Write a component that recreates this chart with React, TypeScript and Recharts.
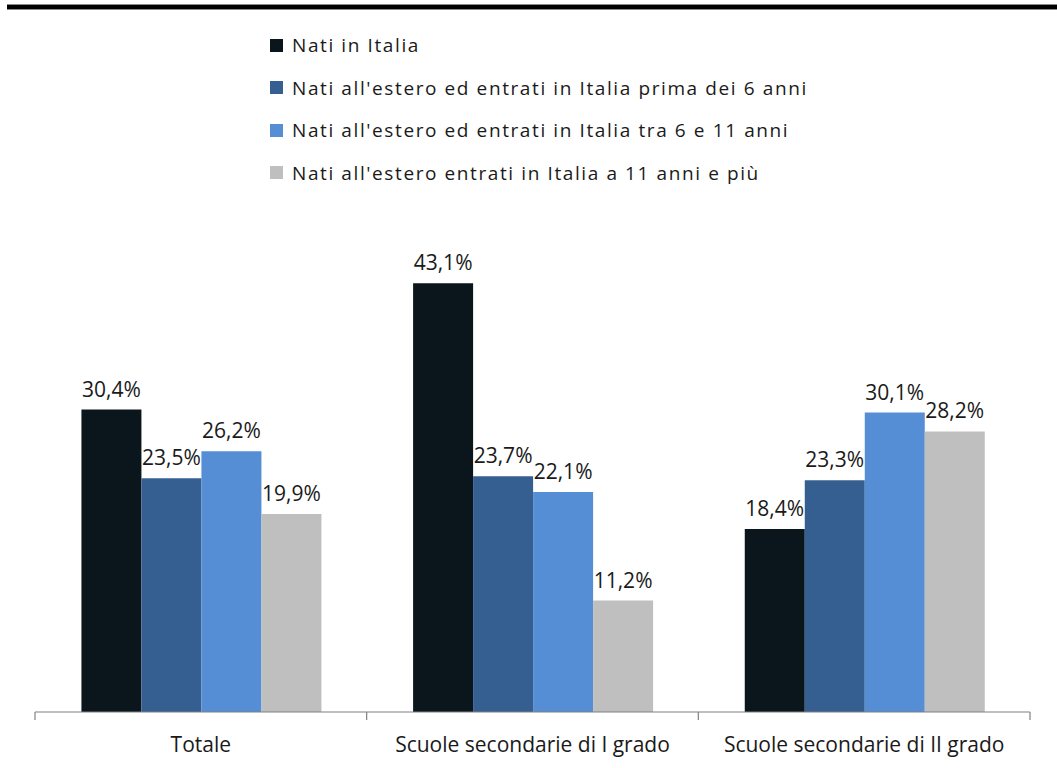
import { Bar, BarChart, LabelList, XAxis, YAxis } from "recharts";

const categories = ["Totale", "Scuole secondarie di I grado", "Scuole secondarie di II grado"];
const natiItalia = [30.4, 43.1, 18.4];
const primaSei = [23.5, 23.7, 23.3];
const traSeiUndici = [26.2, 22.1, 30.1];
const undiciPiu = [19.9, 11.2, 28.2];

const seriesNames = [
  "Nati in Italia",
  "Nati all'estero ed entrati in Italia prima dei 6 anni",
  "Nati all'estero ed entrati in Italia tra 6 e 11 anni",
  "Nati all'estero entrati in Italia a 11 anni e più",
];
const colors = ["#0b161c", "#365f91", "#558ed5", "#bfbfbf"];

const data = categories.map((c, i) => ({
  name: c,
  s0: natiItalia[i],
  s1: primaSei[i],
  s2: traSeiUndici[i],
  s3: undiciPiu[i],
}));

const W = 1057;
const H = 768;
const LEFT = 35;
const RIGHT = 27;
const BAND = (W - LEFT - RIGHT) / categories.length;
const fmt = (v: number) => v.toFixed(1).replace(".", ",") + "%";

function CatTick(props: any) {
  const { x, y, payload, index } = props;
  const lines = [x - BAND / 2];
  if (index === categories.length - 1) lines.push(x + BAND / 2);
  return (
    <g>
      {lines.map((lx, k) => (
        <line key={k} x1={lx} x2={lx} y1={y - 8} y2={y} stroke="#808080" strokeWidth={1.2} />
      ))}
      <text
        x={x}
        y={y + 32}
        textAnchor="middle"
        fontSize={21}
        fontFamily="'Open Sans', sans-serif"
        fill="#1a1a1a"
      >
        {payload.value}
      </text>
    </g>
  );
}

function LegendBox() {
  return (
    <div
      style={{
        position: "absolute",
        left: 270,
        top: 24,
        fontFamily: "'Open Sans', sans-serif",
        fontSize: 19,
        color: "#1a1a1a",
      }}
    >
      {seriesNames.map((n, i) => (
        <div key={n} style={{ display: "flex", alignItems: "center", height: 42.5 }}>
          <span style={{ width: 13, height: 13, background: colors[i], marginRight: 9, display: "inline-block" }} />
          <span style={{ letterSpacing: 1.6, whiteSpace: "nowrap" }}>{n}</span>
        </div>
      ))}
    </div>
  );
}

export default function App() {
  return (
    <div style={{ position: "absolute", left: 0, top: 0, width: W, height: H, background: "#fff" }}>
      <div
        style={{
          position: "absolute",
          left: 7,
          top: 4,
          width: W - 7,
          height: 4,
          background: "#000",
          borderTop: "1px solid #888",
          borderBottom: "1px solid #888",
        }}
      />
      <LegendBox />
      <div style={{ position: "absolute", left: 0, top: 0 }}>
        <BarChart
          width={W}
          height={H}
          data={data}
          margin={{ top: 214.5, left: LEFT, right: RIGHT, bottom: 0 }}
          barCategoryGap="14%"
          barGap={0}
        >
          <YAxis hide domain={[0, 50]} />
          <XAxis
            dataKey="name"
            height={56}
            axisLine={{ stroke: "#808080", strokeWidth: 1.2 }}
            tickLine={false}
            tick={<CatTick />}
            interval={0}
          />
          {["s0", "s1", "s2", "s3"].map((k, i) => (
            <Bar key={k} dataKey={k} name={seriesNames[i]} fill={colors[i]} isAnimationActive={false}>
              <LabelList
                dataKey={k}
                position="top"
                formatter={(v: any) => fmt(Number(v))}
                fontSize={21}
                fontFamily="'Open Sans', sans-serif"
                fill="#1a1a1a"
                offset={13}
              />
            </Bar>
          ))}
        </BarChart>
      </div>
    </div>
  );
}
